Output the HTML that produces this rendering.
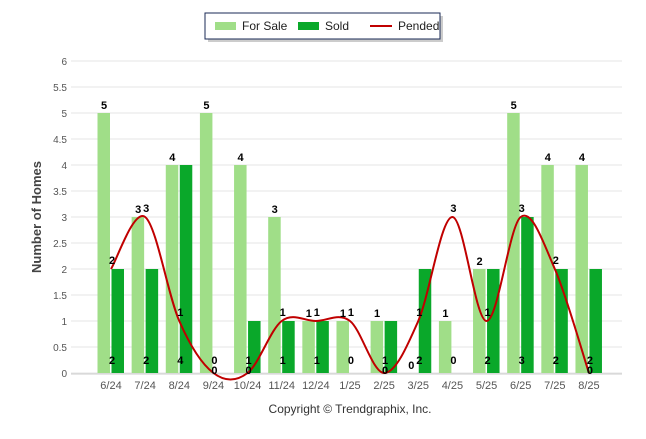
<!DOCTYPE html>
<html><head><meta charset="utf-8"><style>
body{margin:0;background:#fff;font-family:"Liberation Sans",sans-serif}
svg text{font-family:"Liberation Sans",sans-serif}
</style></head><body>
<svg id="chart" width="646" height="434" xmlns="http://www.w3.org/2000/svg">
<g>
<rect x="208" y="16" width="235" height="26" fill="#999" opacity="0.5"/>
<rect x="205" y="13" width="235" height="26" fill="#fff" stroke="#1a2a55" stroke-width="1"/>
<rect x="215" y="22" width="21" height="8" fill="#a0de88"/>
<text x="242" y="30" font-size="12" fill="#222">For Sale</text>
<rect x="298" y="22" width="21" height="8" fill="#0aa82a"/>
<text x="325" y="30" font-size="12" fill="#222">Sold</text>
<line x1="370" y1="26" x2="392" y2="26" stroke="#c00000" stroke-width="2"/>
<text x="398" y="30" font-size="12" fill="#222">Pended</text>
</g>
<text transform="translate(41,217) rotate(-90)" text-anchor="middle" font-size="13" font-weight="bold" fill="#444">Number of Homes</text>
<text x="350" y="413" text-anchor="middle" font-size="12" fill="#333">Copyright © Trendgraphix, Inc.</text>
<g id="grid"></g><g id="bars"></g><g id="line"></g><g id="labels"></g>
</svg>
<script>
const categories=["6/24","7/24","8/24","9/24","10/24","11/24","12/24","1/25","2/25","3/25","4/25","5/25","6/25","7/25","8/25"];
const forSale=[5,3,4,5,4,3,1,1,1,0,1,2,5,4,4];
const sold=[2,2,4,0,1,1,1,0,1,2,0,2,3,2,2];
const pended=[2,3,1,0,0,1,1,1,0,1,3,1,3,2,0];
const yTicks=[0,0.5,1,1.5,2,2.5,3,3.5,4,4.5,5,5.5,6];
const NS="http://www.w3.org/2000/svg";
const y=v=>373-v*52;
const x=i=>111+i*34.14;
function mk(tag,attrs,parent){const e=document.createElementNS(NS,tag);for(const k in attrs)e.setAttribute(k,attrs[k]);document.getElementById(parent).appendChild(e);return e;}
yTicks.forEach(t=>{
 const l=mk('line',{x1:71,x2:622,y1:y(t),y2:y(t),stroke:'#e6e6e6'},'grid');
 
 
 const tx=mk('text',{x:67,y:y(t)+4,'text-anchor':'end','font-size':'10',fill:'#555'},'grid');
 tx.textContent=t;
 
 
});
const ax=mk('line',{x1:71,x2:622,y1:374,y2:374,stroke:'#ccc'},'grid');


categories.forEach((c,i)=>{
 const tx=mk('text',{x:x(i),y:389,'text-anchor':'middle','font-size':'11',fill:'#555'},'grid');
 tx.textContent=c;
 
 
 const b1=mk('rect',{x:x(i)-13.5,y:y(forSale[i]),width:12.5,height:373-y(forSale[i]),fill:'#a0de88'},'bars');
 
 
 const b2=mk('rect',{x:x(i)+0.5,y:y(sold[i]),width:12.5,height:373-y(sold[i]),fill:'#0aa82a'},'bars');
 
 
 const l1=mk('text',{x:x(i)-7,y:y(forSale[i])-4,'text-anchor':'middle','font-size':'11','font-weight':'bold',fill:'#000'},'labels');
 l1.textContent=forSale[i];
 
 
 const l2=mk('text',{x:x(i)+1,y:364,'text-anchor':'middle','font-size':'11','font-weight':'bold',fill:'#000'},'labels');
 l2.textContent=sold[i];
 
 
 const l3=mk('text',{x:x(i)+1,y:y(pended[i])-5+(pended[i]===0?6:0),'text-anchor':'middle','font-size':'11','font-weight':'bold',fill:'#000'},'labels');
 l3.textContent=pended[i];
 
 
});
const pts=pended.map((v,i)=>[x(i),y(v)]);
let d='M'+pts[0][0]+','+pts[0][1];
for(let i=0;i<pts.length-1;i++){
 const p0=pts[Math.max(0,i-1)],p1=pts[i],p2=pts[i+1],p3=pts[Math.min(pts.length-1,i+2)];
 const c1=[p1[0]+(p2[0]-p0[0])/6,p1[1]+(p2[1]-p0[1])/6];
 const c2=[p2[0]-(p3[0]-p1[0])/6,p2[1]-(p3[1]-p1[1])/6];
 d+=` C${c1[0]},${c1[1]} ${c2[0]},${c2[1]} ${p2[0]},${p2[1]}`;
}
const ln=mk('path',{d:d,fill:'none',stroke:'#c00000','stroke-width':2},'line');


</script>
</body></html>
